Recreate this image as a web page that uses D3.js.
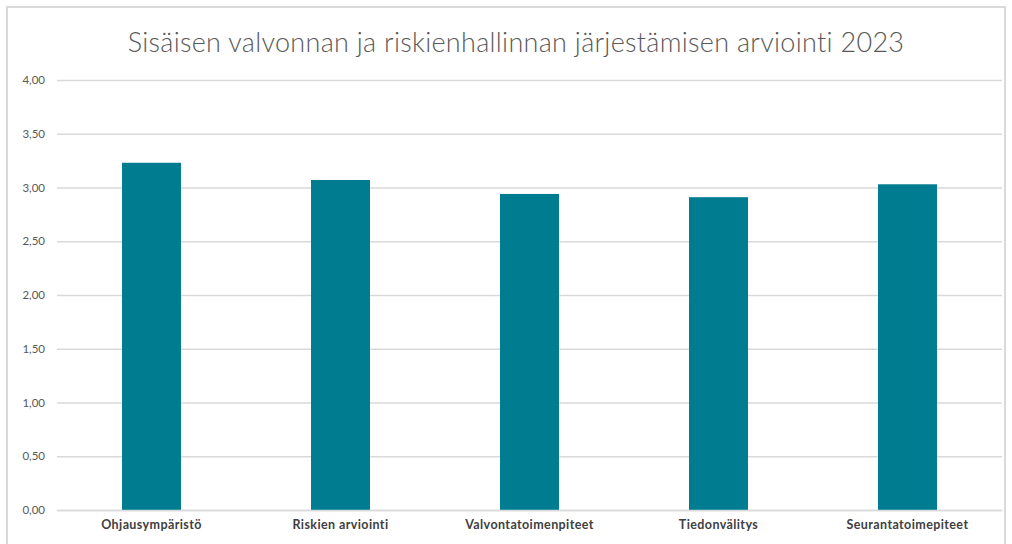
<!DOCTYPE html>
<html>
<head>
<meta charset="utf-8">
<script src="https://cdn.jsdelivr.net/npm/d3@7"></script>
<style>
  body { margin: 0; background: #fff; }
  svg { display: block; }
</style>
</head>
<body>
<div id="chart"></div>
<script>
const title = "Sisäisen valvonnan ja riskienhallinnan järjestämisen arviointi 2023";
const categories = ["Ohjausympäristö", "Riskien arviointi", "Valvontatoimenpiteet", "Tiedonvälitys", "Seurantatoimepiteet"];
const values = [3.23, 3.07, 2.94, 2.91, 3.03];
const yTicks = [0, 0.5, 1, 1.5, 2, 2.5, 3, 3.5, 4];

const width = 1012, height = 544;
const margin = {top: 80, right: 10, bottom: 34, left: 57};

const svg = d3.select("#chart").append("svg")
  .attr("width", width)
  .attr("height", height);

// chart frame
svg.append("rect")
  .attr("x", 7).attr("y", 7)
  .attr("width", width - 14).attr("height", height)
  .attr("fill", "none")
  .attr("stroke", "#d9d9d9")
  .attr("stroke-width", 2);

svg.append("text")
  .attr("x", 516)
  .attr("y", 52)
  .attr("text-anchor", "middle")
  .style("font-family", "Lato, 'Open Sans', sans-serif")
  .style("font-size", "27px")
  .style("font-weight", 300)
  .style("letter-spacing", "0.3px")
  .style("fill", "#595959")
  .text(title);

const x = d3.scaleBand()
  .domain(categories)
  .range([margin.left, width - margin.right])
  .paddingInner(0.688)
  .paddingOuter(0.344);

const y = d3.scaleLinear()
  .domain([0, 4])
  .range([height - margin.bottom, margin.top]);

const fmt = d => d3.format(".2f")(d).replace(".", ",");

const yAxis = svg.append("g")
  .attr("transform", `translate(${margin.left},0)`)
  .call(d3.axisLeft(y).tickValues(yTicks).tickFormat(fmt)
    .tickSize(-(width - margin.left - margin.right)).tickPadding(12));
yAxis.select(".domain").remove();
yAxis.selectAll("line").attr("stroke", "#d9d9d9").attr("stroke-width", 1.5);
yAxis.selectAll("text")
  .style("font-family", "Lato, sans-serif")
  .style("font-size", "11.5px")
  .style("fill", "#595959");

svg.append("g")
  .selectAll("rect")
  .data(values)
  .join("rect")
    .attr("x", (d, i) => x(categories[i]))
    .attr("y", d => y(d))
    .attr("width", x.bandwidth())
    .attr("height", d => y(0) - y(d))
    .attr("fill", "#007c91");

const xAxis = svg.append("g")
  .attr("transform", `translate(0,${y(0)})`)
  .call(d3.axisBottom(x).tickSize(0).tickPadding(10));
xAxis.select(".domain").attr("stroke", "#d9d9d9").attr("stroke-width", 1.5);
xAxis.selectAll("text")
  .style("font-family", "Lato, sans-serif")
  .style("font-size", "12.5px")
  .style("font-weight", "bold")
  .style("letter-spacing", "0.4px")
  .style("fill", "#404040");
</script>
</body>
</html>
